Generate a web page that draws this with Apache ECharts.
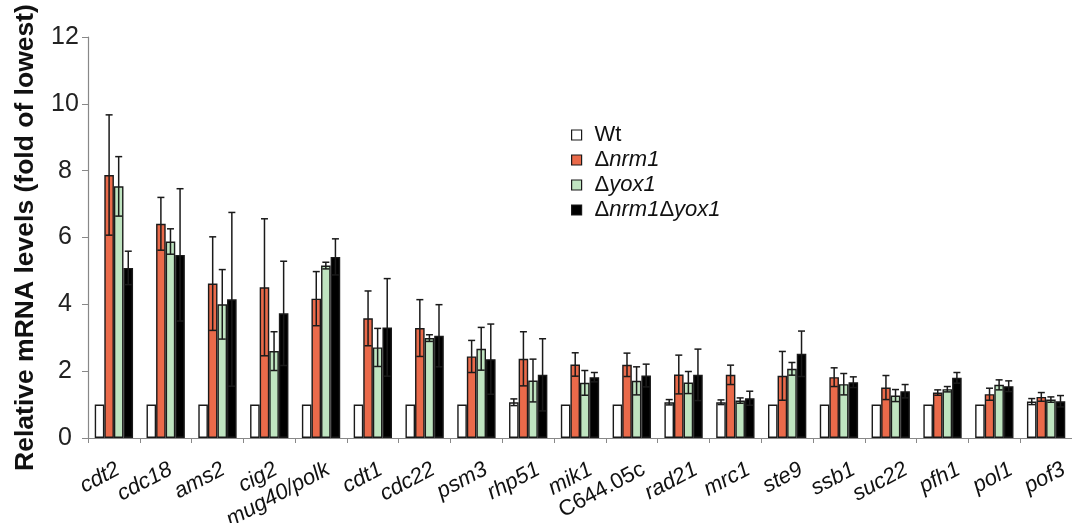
<!DOCTYPE html>
<html>
<head>
<meta charset="utf-8">
<script src="https://cdn.jsdelivr.net/npm/echarts@6/dist/echarts.min.js"></script>
<style>
html,body{margin:0;padding:0;background:#fff;}
#chart{width:1072px;height:523px;}
</style>
</head>
<body>
<div id="chart"></div>
<script>
const categories = ['cdt2','cdc18','ams2','cig2','mug40/polk','cdt1','cdc22','psm3','rhp51','mik1','C644.05c','rad21','mrc1','ste9','ssb1','suc22','pfh1','pol1','pof3'];
const seriesNames = ['Wt','Δnrm1','Δyox1','Δnrm1Δyox1'];
const wt      = [1.00,1.00,1.00,1.00,1.00,1.00,1.00,1.00,1.07,1.00,1.00,1.07,1.07,1.00,1.00,1.00,1.00,1.00,1.09];
const wtErr   = [0,0,0,0,0,0,0,0,0.10,0,0,0.08,0.07,0,0,0,0,0,0.09];
const nrm1    = [7.87,6.41,4.62,4.51,4.17,3.58,3.29,2.44,2.37,2.20,2.19,1.90,1.89,1.86,1.82,1.51,1.36,1.31,1.23];
const nrm1Err = [1.80,0.79,1.40,2.05,0.81,0.82,0.85,0.48,0.81,0.35,0.35,0.58,0.29,0.73,0.28,0.36,0.08,0.18,0.13];
const yox1    = [7.53,5.88,4.00,2.60,5.16,2.71,2.99,2.67,1.72,1.65,1.71,1.66,1.12,2.07,1.61,1.27,1.46,1.59,1.15];
const yox1Err = [0.89,0.38,1.04,0.58,0.10,0.57,0.10,0.64,0.64,0.37,0.42,0.33,0.08,0.19,0.32,0.18,0.08,0.15,0.08];
const dbl     = [5.09,5.48,4.15,3.73,5.42,3.31,3.06,2.36,1.89,1.82,1.87,1.89,1.19,2.52,1.67,1.40,1.80,1.55,1.10];
const dblErr  = [0.50,1.98,2.60,1.56,0.54,1.46,0.93,1.05,1.08,0.14,0.34,0.77,0.21,0.68,0.16,0.20,0.16,0.16,0.17];
const yTicks = [0,2,4,6,8,10,12];

const values = [wt, nrm1, yox1, dbl];
const errors = [wtErr, nrm1Err, yox1Err, dblErr];
const colors = ['#ffffff','#ea6a4a','#bfe4c0','#000000'];
const BW = 0.185;
const FONT = '"Liberation Sans", Arial, sans-serif';

const chart = echarts.init(document.getElementById('chart'));

function legendFmt(name){
  const parts = name.split('Δ');
  let s = parts[0] ? '{n|' + parts[0] + '}' : '';
  for (let i = 1; i < parts.length; i++) s += '{n|Δ}{i|' + parts[i] + '}';
  return s;
}

const barSeries = seriesNames.map((n, k) => ({
  name: n,
  type: 'bar',
  data: values[k],
  barWidth: (BW*100) + '%',
  barGap: '0%',
  itemStyle: {color: colors[k], borderColor: '#1a1a1a', borderWidth: 1.4},
  emphasis: {disabled: true},
  z: 2
}));

const errSeries = seriesNames.map((n, k) => ({
  type: 'custom',
  name: n + '_err',
  z: 5,
  silent: true,
  data: categories.map((c, i) => [i, values[k][i], errors[k][i], k]),
  encode: {x: 0, y: 1},
  renderItem: function(params, api){
    const ci = api.value(0), v = api.value(1), e = api.value(2), idx = api.value(3);
    if (!e) return null;
    const band = api.size([1, 0])[0];
    const x = api.coord([ci, 0])[0] + (idx - 1.5) * band * BW;
    const top = api.coord([ci, v + e])[1];
    const bot = api.coord([ci, v - e])[1];
    const cap = 3.5;
    const st = {stroke: '#1a1a1a', lineWidth: 1.5};
    return {type: 'group', children: [
      {type: 'line', shape: {x1: x, y1: top, x2: x, y2: bot}, style: st},
      {type: 'line', shape: {x1: x - cap, y1: top, x2: x + cap, y2: top}, style: st},
      {type: 'line', shape: {x1: x - cap, y1: bot, x2: x + cap, y2: bot}, style: st}
    ]};
  }
}));

chart.setOption({
  animation: false,
  textStyle: {fontFamily: FONT},
  grid: [
    {left: 88, right: 0, top: 37, bottom: 85, outerBoundsMode: 'none', containLabel: false},
    {left: 92, right: -18, top: 37, bottom: 85, outerBoundsMode: 'none', containLabel: false}
  ],
  legend: {
    data: seriesNames,
    orient: 'vertical',
    left: 571,
    top: 124,
    padding: 0,
    icon: 'rect',
    itemWidth: 10,
    itemHeight: 10,
    itemGap: 3,
    itemStyle: {borderColor: '#1a1a1a', borderWidth: 1.2},
    formatter: legendFmt,
    textStyle: {
      fontSize: 22, color: '#111', fontFamily: FONT, padding: [0,0,0,8],
      rich: {
        n: {fontSize: 22, color: '#111', fontFamily: FONT, lineHeight: 22},
        i: {fontSize: 22, color: '#111', fontFamily: FONT, fontStyle: 'italic', lineHeight: 22}
      }
    }
  },
  xAxis: [
    {
      type: 'category',
      gridIndex: 0,
      data: categories,
      axisLine: {show: true, lineStyle: {color: '#888', width: 1.2}},
      axisTick: {show: true, interval: 0, length: 5, lineStyle: {color: '#888'}},
      axisLabel: {show: false},
      splitLine: {show: false}
    },
    {
      type: 'category',
      gridIndex: 1,
      data: categories,
      axisLine: {show: false},
      axisTick: {show: false},
      axisLabel: {
        interval: 0, rotate: 28, fontSize: 22, color: '#111', fontFamily: FONT,
        fontStyle: 'italic', margin: 30,
        formatter: function(v){ return v === 'C644.05c' ? '{n|' + v + '}' : v; },
        rich: {n: {fontSize: 22, color: '#111', fontFamily: FONT, fontStyle: 'normal'}}
      },
      splitLine: {show: false}
    }
  ],
  yAxis: [
    {
      type: 'value',
      gridIndex: 0,
      min: yTicks[0],
      max: yTicks[yTicks.length - 1],
      interval: 2,
      name: 'Relative mRNA levels (fold of lowest)',
      nameLocation: 'middle',
      nameRotate: 90,
      nameGap: 49,
      nameTextStyle: {fontSize: 26.5, fontWeight: 'bold', color: '#111', fontFamily: FONT},
      axisLine: {show: true, lineStyle: {color: '#888', width: 1.2}},
      axisTick: {show: true, length: 6, lineStyle: {color: '#888'}},
      axisLabel: {fontSize: 25, color: '#222', margin: 23, align: 'center', fontFamily: FONT},
      splitLine: {show: false}
    },
    {
      type: 'value',
      gridIndex: 1,
      show: false,
      min: 0,
      max: 12
    }
  ],
  series: barSeries.concat(errSeries)
});
</script>
</body>
</html>
